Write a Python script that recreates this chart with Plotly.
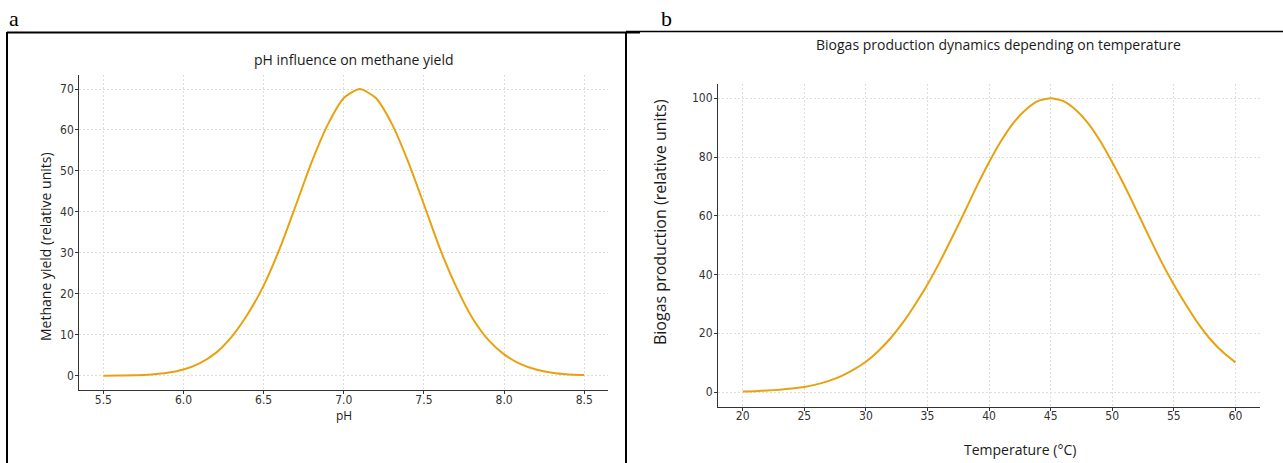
import plotly.graph_objects as go

W, H = 1283, 463

# ---- data ----
ph = [5.5, 5.6, 5.7, 5.8, 5.9, 6.0, 6.1, 6.2, 6.3, 6.4, 6.5, 6.6, 6.7, 6.8, 6.9, 7.0,
      7.1, 7.2, 7.3, 7.4, 7.5, 7.6, 7.7, 7.8, 7.9, 8.0, 8.1, 8.2, 8.3, 8.4, 8.5]
methane_yield = [0.0, 0.05, 0.1, 0.3, 0.7, 1.5, 3.0, 5.5, 9.5, 15.0, 22.0, 31.0, 41.5, 52.2,
                 61.3, 67.8, 70.0, 67.8, 61.5, 52.4, 41.8, 31.0, 21.8, 14.2, 8.8, 5.2,
                 2.9, 1.5, 0.7, 0.3, 0.15]

temperature = list(range(20, 61))
biogas = [0.2, 0.3, 0.5, 0.8, 1.2, 1.7, 2.6, 3.8, 5.4, 7.6, 10.3, 13.9, 18.3, 23.6, 29.8,
          36.6, 44.3, 52.6, 61.2, 70.0, 78.2, 85.6, 91.7, 96.2, 99.1, 100.0, 99.1, 96.2,
          91.7, 85.6, 78.2, 70.2, 61.6, 52.8, 44.3, 36.6, 29.6, 23.2, 17.8, 13.5, 10.1]

ph_ticks = [5.5, 6.0, 6.5, 7.0, 7.5, 8.0, 8.5]
ph_ticktext = ["5.5", "6.0", "6.5", "7.0", "7.5", "8.0", "8.5"]
yield_ticks = [0, 10, 20, 30, 40, 50, 60, 70]
temp_ticks = [20, 25, 30, 35, 40, 45, 50, 55, 60]
biogas_ticks = [0, 20, 40, 60, 80, 100]

LINE = "#E8A210"
AX = "#333333"
GRID = "#dedede"
TICKFONT = dict(family="DejaVu Sans Condensed, DejaVu Sans", size=12, color="#333333")
LABELFONT = "Open Sans"


def fx(px):
    return px / W


def fy(py):
    return 1 - py / H


fig = go.Figure()
fig.add_trace(go.Scatter(x=ph, y=methane_yield, mode="lines",
                         line=dict(color=LINE, width=2, shape="spline", smoothing=0.6),
                         xaxis="x", yaxis="y", showlegend=False))
fig.add_trace(go.Scatter(x=temperature, y=biogas, mode="lines",
                         line=dict(color=LINE, width=2, shape="spline", smoothing=0.6),
                         xaxis="x2", yaxis="y2", showlegend=False))

common = dict(showline=True, linecolor=AX, linewidth=1.2, ticks="outside", ticklen=3,
              tickcolor=AX, tickfont=TICKFONT, showgrid=True, gridcolor=GRID,
              griddash="2px,2px", gridwidth=1, zeroline=False, mirror=False)
xcommon = dict(common, ticklabelstandoff=-5)
ycommon = dict(common, ticklabelstandoff=-1)

fig.update_layout(
    width=W, height=H,
    margin=dict(l=0, r=0, t=0, b=0),
    paper_bgcolor="white", plot_bgcolor="white",
    xaxis=dict(domain=[fx(79.3), fx(608.3)], range=[5.35, 8.65], tickvals=ph_ticks,
               ticktext=ph_ticktext, anchor="y", **xcommon),
    yaxis=dict(domain=[fy(390), fy(74.7)], range=[-3.5, 73.5], tickvals=yield_ticks,
               anchor="x", **ycommon),
    xaxis2=dict(domain=[fx(718.1), fx(1260)], range=[18, 62], tickvals=temp_ticks,
                anchor="y2", **xcommon),
    yaxis2=dict(domain=[fy(406.7), fy(83.6)], range=[-5, 105], tickvals=biogas_ticks,
                anchor="x2", **ycommon),
)

ann = []


def text(t, x, y, size, family=LABELFONT, angle=0, color="#1a1a1a"):
    ann.append(dict(text=t, x=fx(x), y=fy(y), xref="paper", yref="paper", showarrow=False,
                    xanchor="center", yanchor="middle", textangle=angle,
                    font=dict(family=family, size=size, color=color)))


text("a", 14, 18, 22, family="Liberation Serif", color="black")
text("b", 666, 18, 22, family="Liberation Serif", color="black")
text("pH influence on methane yield", 354, 60, 14)
text("Biogas production dynamics depending on temperature", 998, 44, 14)
text("Methane yield (relative units)", 45, 247, 14, angle=-90)
text("pH", 344, 415, 12)
text("Biogas production (relative units)", 660, 222, 16, angle=-90)
text("Temperature (°C)", 1020, 449, 14)
fig.update_layout(annotations=ann)

shapes = []


def seg(x0, y0, x1, y1, w=2):
    shapes.append(dict(type="line", xref="paper", yref="paper", x0=fx(x0), y0=fy(y0),
                       x1=fx(x1), y1=fy(y1), line=dict(color="black", width=w)))


seg(7, 32.5, 640, 32.5)
seg(626, 31.5, 1283, 31.5, 1.5)
seg(7, 32, 7, 463)
seg(626, 32, 626, 463)
fig.update_layout(shapes=shapes)

fig.write_html("out.html", config={"displayModeBar": False},
               post_script="document.body.style.margin='0';document.body.style.padding='0';"
                           "document.body.style.overflow='hidden';")
